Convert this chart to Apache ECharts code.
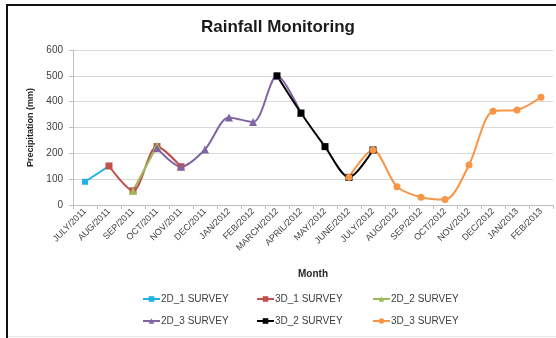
<!DOCTYPE html>
<html>
<head>
<meta charset="utf-8">
<script src="https://cdn.jsdelivr.net/npm/echarts@6/dist/echarts.min.js"></script>
<style>
  html, body { margin: 0; padding: 0; background: #fff; }
  #chart { width: 556px; height: 338px; }
</style>
</head>
<body>
<div id="chart"></div>
<script>
// Monthly precipitation by survey period
const months = ['JULY/2011','AUG/2011','SEP/2011','OCT/2011','NOV/2011','DEC/2011',
  'JAN/2012','FEB/2012','MARCH/2012','APRIL/2012','MAY/2012','JUNE/2012','JULY/2012',
  'AUG/2012','SEP/2012','OCT/2012','NOV/2012','DEC/2012','JAN/2013','FEB/2013'];

const survey2D1 = [90, 151, null, null, null, null, null, null, null, null, null, null, null, null, null, null, null, null, null, null];
const survey3D1 = [null, 151, 55, 226, 148, null, null, null, null, null, null, null, null, null, null, null, null, null, null, null];
const survey2D2 = [null, null, 55, 229, null, null, null, null, null, null, null, null, null, null, null, null, null, null, null, null];
const survey2D3 = [null, null, null, 220, 148, 215, 339, 321, 500, 356, null, null, null, null, null, null, null, null, null, null];
const survey3D2 = [null, null, null, null, null, null, null, null, 500, 356, 226, 107, 213, null, null, null, null, null, null, null];
const survey3D3 = [null, null, null, null, null, null, null, null, null, null, null, 107, 213, 71, 30, 21, 155, 363, 368, 417];

const yTicks = { min: 0, max: 600, interval: 100 };

const font = 'Liberation Sans';
const chart = echarts.init(document.getElementById('chart'));

function line(name, data, color, symbol, size) {
  return {
    name, type: 'line', data, smooth: 0.3, connectNulls: false,
    symbol, symbolSize: size,
    lineStyle: { color, width: 2 },
    itemStyle: { color },
    emphasis: { disabled: true }
  };
}

function legendAt(name, left, top) {
  return {
    data: [name], left, top, itemWidth: 17, itemHeight: 7, itemGap: 0,
    textStyle: { fontFamily: font, fontSize: 10, color: '#404040', padding: [0, 0, 0, -4] },
    selectedMode: false
  };
}

chart.setOption({
  animation: false,
  title: {
    text: 'Rainfall Monitoring', left: 'center', top: 14,
    textStyle: { fontFamily: font, fontSize: 17, fontWeight: 'bold', color: '#1a1a1a' }
  },
  graphic: [
    { type: 'line', shape: { x1: 7, y1: 5, x2: 7, y2: 338 }, style: { stroke: '#111', lineWidth: 2 } },
    { type: 'line', shape: { x1: 6, y1: 5, x2: 556, y2: 5 }, style: { stroke: '#111', lineWidth: 2 } },
    { type: 'line', shape: { x1: 8, y1: 336.5, x2: 556, y2: 336.5 }, style: { stroke: '#e6e6e6', lineWidth: 1 } }
  ],
  grid: { left: 73, right: 3, top: 50, bottom: 133 },
  xAxis: {
    type: 'category', data: months, boundaryGap: true,
    name: 'Month', nameLocation: 'middle', nameGap: 64,
    nameTextStyle: { fontFamily: font, fontSize: 10, fontWeight: 'bold', color: '#262626' },
    axisLine: { lineStyle: { color: '#bfbfbf' } },
    axisTick: { show: true, length: 4, alignWithLabel: false, lineStyle: { color: '#bfbfbf' } },
    axisLabel: { rotate: 45, interval: 0, fontFamily: font, fontSize: 9, color: '#404040', margin: 5 }
  },
  yAxis: {
    type: 'value', min: yTicks.min, max: yTicks.max, interval: yTicks.interval,
    name: 'Precipitation (mm)', nameLocation: 'middle', nameGap: 34, nameRotate: 90,
    nameTextStyle: { fontFamily: font, fontSize: 9, fontWeight: 'bold', color: '#262626' },
    axisLine: { show: true, lineStyle: { color: '#bfbfbf' } },
    axisTick: { show: true, length: 4, lineStyle: { color: '#bfbfbf' } },
    splitLine: { lineStyle: { color: '#d9d9d9', width: 1 } },
    axisLabel: { fontFamily: font, fontSize: 10, color: '#404040', margin: 10 }
  },
  legend: [
    legendAt('2D_1 SURVEY', 137, 289),
    legendAt('3D_1 SURVEY', 251, 289),
    legendAt('2D_2 SURVEY', 367, 289),
    legendAt('2D_3 SURVEY', 137, 311),
    legendAt('3D_2 SURVEY', 251, 311),
    legendAt('3D_3 SURVEY', 367, 311)
  ],
  series: [
    line('2D_1 SURVEY', survey2D1, '#1eb1e3', 'rect', 6),
    line('3D_1 SURVEY', survey3D1, '#c0504d', 'rect', 7),
    line('2D_2 SURVEY', survey2D2, '#9bbb59', 'triangle', 8),
    line('2D_3 SURVEY', survey2D3, '#8064a2', 'triangle', 8),
    line('3D_2 SURVEY', survey3D2, '#000000', 'rect', 7),
    line('3D_3 SURVEY', survey3D3, '#f79646', 'circle', 7)
  ]
});
</script>
</body>
</html>
